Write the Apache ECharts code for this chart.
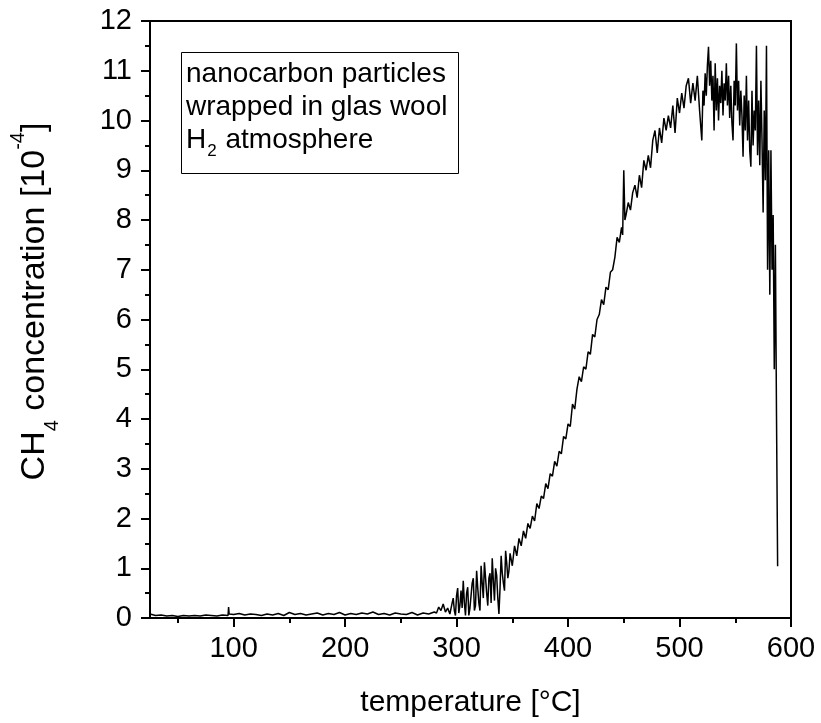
<!DOCTYPE html>
<html>
<head>
<meta charset="utf-8">
<script src="https://cdn.jsdelivr.net/npm/echarts@6/dist/echarts.min.js"></script>
<style>html,body{margin:0;padding:0;background:#fff}#c{width:821px;height:723px}</style>
</head>
<body>
<div id="c"></div>
<script>
// [temperature °C, CH4 concentration 1e-4]
const baseline = [[25,0.08],[30,0.05],[35,0.06],[40,0.04],[45,0.05],[50,0.03],[55,0.05],[60,0.04],[65,0.05],[70,0.04],[75,0.06],[80,0.05],[85,0.04],[90,0.06],[95,0.05],[95.5,0.22],[96,0.08],[100,0.07],[105,0.09],[110,0.06],[115,0.08],[120,0.07],[125,0.05],[130,0.08],[135,0.06],[140,0.09],[145,0.05],[150,0.11],[155,0.07],[160,0.09],[165,0.06],[170,0.08],[175,0.10],[180,0.06],[185,0.09],[190,0.07],[195,0.11],[200,0.06],[205,0.09],[210,0.07],[215,0.10],[220,0.08],[225,0.12],[230,0.07],[235,0.09],[240,0.06],[245,0.10],[250,0.08],[255,0.07],[260,0.11],[265,0.06],[270,0.10],[275,0.08],[280,0.12]];
const onset = [[282,0.10],[284,0.22],[286,0.15],[288,0.28],[290,0.12],[292,0.20],[294,0.08],[296,0.30],[297,0.40],[298,0.15],[299,0.05],[300,0.45],[301,0.60],[302,0.10],[303,0.25],[304,0.55],[305,0.20],[306,0.75],[307,0.30],[308,0.05],[309,0.50],[310,0.62],[311,0.05],[312,0.20],[313,0.45],[314,0.70],[315,0.80],[316,0.15],[317,0.25],[318,0.95],[319,0.60],[320,0.30],[321,0.15],[322,1.05],[323,0.70],[324,0.40],[325,1.12],[326,1.10],[327,0.50],[328,0.25],[329,0.80],[330,0.90],[331,0.30],[332,1.20],[333,0.75],[334,0.35],[335,1.00],[336,0.85],[337,0.40],[338,0.08],[339,0.60],[340,1.25],[341,0.90],[342,0.70],[343,0.55],[344,1.35],[345,1.10],[346,0.80],[347,0.95],[348,1.30],[350,1.05],[352,1.45],[354,1.25],[356,1.60],[358,1.45]];
const rise = [[360,1.75],[362,1.60],[364,1.90],[366,1.80],[368,2.05],[370,1.95],[372,2.30],[374,2.20],[376,2.45],[378,2.40],[380,2.70],[382,2.60],[384,2.90],[386,2.85],[388,3.15],[390,3.05],[392,3.35],[394,3.30],[396,3.65],[398,3.60],[400,3.90],[402,3.85],[404,4.30],[406,4.20],[408,4.60],[410,4.85],[412,4.75],[414,5.05],[416,5.00],[418,5.35],[420,5.30],[422,5.70],[424,5.65],[426,6.00],[428,6.10],[430,6.40],[432,6.30],[434,6.65],[436,6.60],[438,6.95],[440,7.00],[442,7.25],[444,7.65],[446,7.55],[448,7.85],[449,7.70],[450,9.00],[451,8.00],[452,8.10],[454,8.35],[456,8.20],[458,8.55],[460,8.70],[462,8.45],[464,8.90],[466,8.65],[468,9.20],[470,9.00],[472,9.30],[474,9.05],[476,9.60],[478,9.80],[480,9.35],[482,9.85],[484,9.55],[486,10.05],[488,9.80],[490,10.10],[492,9.85],[494,10.30],[496,9.75],[498,10.45],[500,10.15],[502,10.55],[504,10.25],[506,10.70],[508,10.85],[510,10.35],[512,10.75],[514,10.40],[516,10.90],[518,10.20],[520,9.60]];
const plateau = [[521,10.60],[522,10.30],[523,10.95],[524,10.50],[525,11.10],[526,11.48],[527,10.70],[528,11.20],[529,10.40],[530,10.90],[531,9.80],[532,11.15],[533,10.20],[534,10.85],[535,10.00],[536,10.70],[537,10.35],[538,11.00],[539,10.10],[540,10.75],[541,10.40],[542,11.15],[543,10.30],[544,10.90],[545,10.05],[546,10.70],[547,9.95],[548,9.60],[549,10.80],[550,10.30],[551,11.55],[552,10.20],[553,10.80],[554,9.90],[555,10.60],[556,10.10],[557,9.27],[558,10.50],[559,9.80],[560,10.90],[561,9.60],[562,10.40],[563,9.40],[564,9.07],[565,10.60],[566,9.50],[567,10.20],[568,9.80],[569,11.50],[570,9.30],[571,10.40],[572,9.10],[573,10.80],[574,9.60],[575,8.15],[576,10.20],[577,8.80],[578,11.50],[579,7.00],[580,9.40],[581,6.50],[582,9.40],[583,7.00],[584,8.10],[585,5.00],[586,7.50],[587,4.05],[588,1.04]];
const xMajorTicks = [100,200,300,400,500,600];
const xMinorTicks = [50,150,250,350,450,550];
const boxLines = ['nanocarbon particles','wrapped in glas wool'];

const FONT = '"Liberation Sans", Arial, sans-serif';
const data = baseline.concat(onset, rise, plateau);

const chart = echarts.init(document.getElementById('c'), null, {renderer:'canvas'});
chart.setOption({
  animation: false,
  backgroundColor: '#fff',
  title: {
    left: 181, top: 50,
    text: '{t|' + boxLines[0] + '}\n{t|' + boxLines[1] + '}\n{t|H}{s|2}{t| atmosphere}',
    borderColor: '#000', borderWidth: 1,
    padding: [8, 11, 14, 5],
    textStyle: {
      fontWeight: 'normal',
      rich: {
        t: {fontFamily: FONT, fontSize: 28, fontWeight: 'normal', lineHeight: 33, color: '#000'},
        s: {fontFamily: FONT, fontSize: 17, fontWeight: 'normal', lineHeight: 17, verticalAlign: 'top', padding: [19, 1, 0, 1], color: '#000'}
      }
    }
  },
  grid: {left: 148, right: 30, top: 21, bottom: 104, show: true, borderColor: '#000', borderWidth: 2, containLabel: false},
  xAxis: [{
    type: 'value', min: 25, max: 600, position: 'bottom',
    axisLine: {lineStyle: {color: '#000', width: 2}},
    axisTick: {customValues: xMajorTicks, length: 9, lineStyle: {color: '#000', width: 2}},
    axisLabel: {customValues: xMajorTicks, fontFamily: FONT, fontSize: 29, color: '#000', margin: 16},
    splitLine: {show: false},
    name: 'temperature [°C]', nameLocation: 'middle', nameGap: 70,
    nameTextStyle: {fontFamily: FONT, fontSize: 30, color: '#000'}
  }, {
    type: 'value', min: 25, max: 600, position: 'bottom',
    axisLine: {show: false},
    axisTick: {customValues: xMinorTicks, length: 5, lineStyle: {color: '#000', width: 2}},
    axisLabel: {show: false},
    splitLine: {show: false}
  }],
  yAxis: {
    type: 'value', min: 0, max: 12, interval: 1,
    axisLine: {show: true, lineStyle: {color: '#000', width: 2}},
    axisTick: {show: true, length: 9, lineStyle: {color: '#000', width: 2}},
    minorTick: {show: true, splitNumber: 2, length: 5, lineStyle: {color: '#000', width: 2}},
    axisLabel: {fontFamily: FONT, fontSize: 29, color: '#000', margin: 18},
    splitLine: {show: false},
    name: '{a|CH}{s|4}{a| concentration [10}{p|-4}{a|]}',
    nameLocation: 'middle', nameRotate: 90, nameGap: 88,
    nameTextStyle: {
      padding: [0, 0, 0, 36],
      rich: {
        a: {fontFamily: FONT, fontSize: 34, lineHeight: 54, color: '#000'},
        s: {fontFamily: FONT, fontSize: 20, lineHeight: 20, verticalAlign: 'bottom', color: '#000'},
        p: {fontFamily: FONT, fontSize: 20, lineHeight: 20, verticalAlign: 'top', color: '#000'}
      }
    }
  },
  series: [{
    type: 'line', xAxisIndex: 0, yAxisIndex: 0,
    data: data, showSymbol: false, symbol: 'none',
    lineStyle: {color: '#000', width: 1.5},
    clip: true
  }]
});
</script>
</body>
</html>
